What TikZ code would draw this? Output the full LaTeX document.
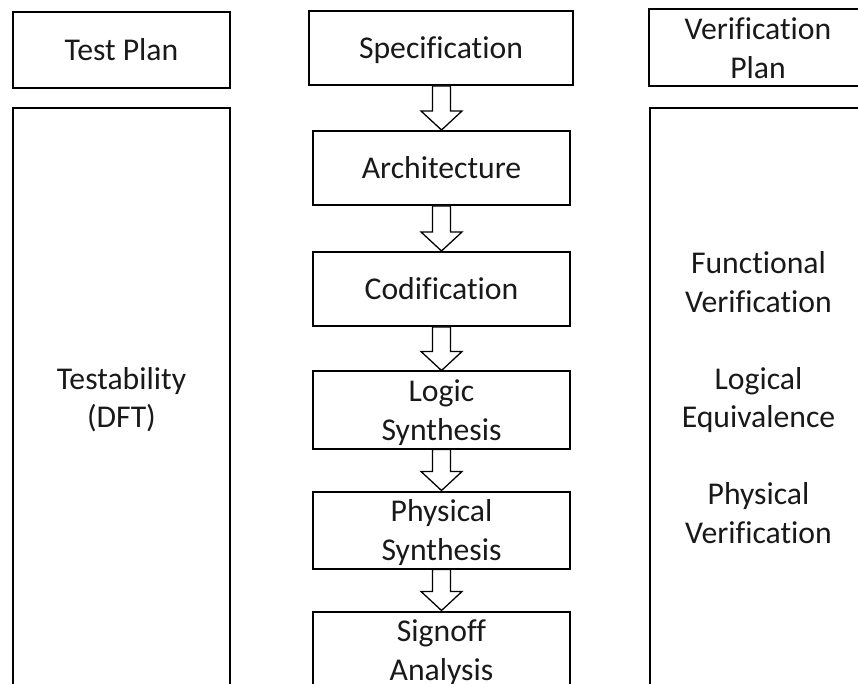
\documentclass[tikz,border=0pt]{standalone}
\usepackage{fontspec}
\setmainfont[Ligatures=NoCommon]{Carlito}
\usetikzlibrary{calc}

% line strut: every text line gets the same box, baseline low in it
\newcommand\ls{\rule[-8.25pt]{0pt}{38.5pt}}

\tikzset{
  box/.style={draw=black, line width=2pt, rectangle, inner sep=0pt,
    align=center, font=\fontsize{31.7}{38.5}\selectfont, text=black!90},
  flow/.style={draw=black, line width=1.3pt, fill=white, line join=miter}
}

% hollow block arrow from the bottom of one box to the top of the next
\newcommand\flowarrow[2]{%
  \draw[flow] let \p1=(#1.south), \p2=(#2.north) in
    (\x2-9pt,\y1) -- (\x2-9pt,\y2+19pt) -- (\x2-20.5pt,\y2+19pt) --
    (\x2,\y2) -- (\x2+20.5pt,\y2+19pt) -- (\x2+9pt,\y2+19pt) --
    (\x2+9pt,\y1) -- cycle;}

\begin{document}
\begin{tikzpicture}[x=1pt, y=1pt]
  \useasboundingbox (0,0) rectangle (858,683);
  \clip (0,0) rectangle (858,683);

  % top row
  \node[box, minimum width=217pt, minimum height=76pt] (testplan) at (121.5,633) {\ls Test Plan};
  \node[box, minimum width=264pt, minimum height=74pt] (spec) at (441,635) {\ls Specification};
  \node[box, minimum width=218pt, minimum height=74pt] (verplan) at (758,635) {\ls Verification\\\ls Plan};

  % side columns
  \node[box, minimum width=217pt, minimum height=579pt] (dft) at (121.5,285.5) {\ls Testability\\\ls(DFT)};
  \node[box, minimum width=217pt, minimum height=579pt] (verif) at (758.5,285.5)
    {\ls Functional\\\ls Verification\\\ls\\\ls Logical\\\ls Equivalence\\\ls\\\ls Physical\\\ls Verification};

  % design flow
  \node[box, minimum width=257pt, minimum height=74pt] (arch) at (441.5,515) {\ls Architecture};
  \node[box, minimum width=257pt, minimum height=74pt] (codif) at (441.5,394) {\ls Codification};
  \node[box, minimum width=257pt, minimum height=74pt] (logic) at (441.5,273) {\ls Logic\\\ls Synthesis};
  \node[box, minimum width=257pt, minimum height=74pt] (phys) at (441.5,153) {\ls Physical\\\ls Synthesis};
  \node[box, minimum width=257pt, minimum height=74pt] (signoff) at (441.5,33) {\ls Signoff\\\ls Analysis};

  \flowarrow{spec}{arch}
  \flowarrow{arch}{codif}
  \flowarrow{codif}{logic}
  \flowarrow{logic}{phys}
  \flowarrow{phys}{signoff}
\end{tikzpicture}
\end{document}
